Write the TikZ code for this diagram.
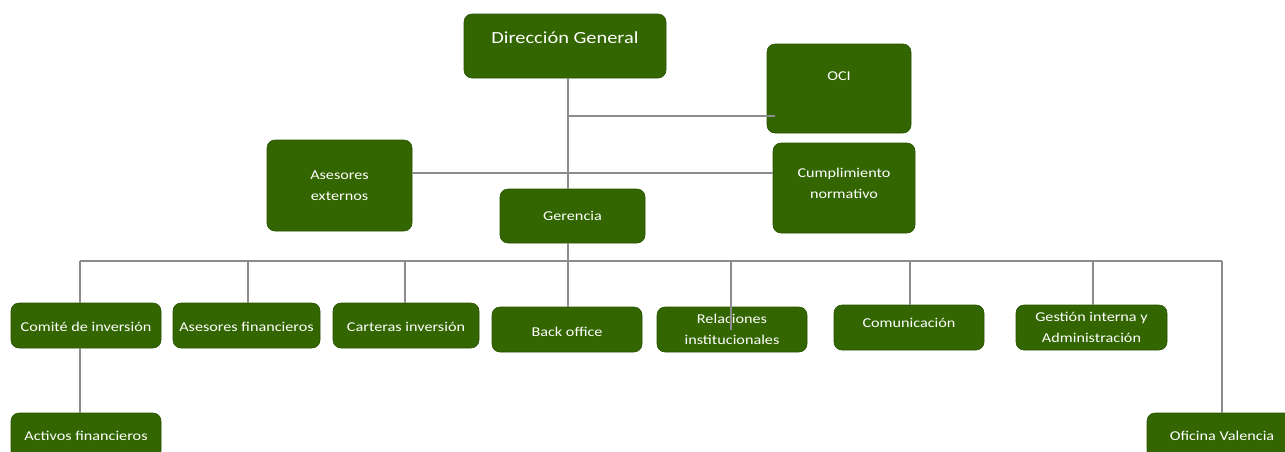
\documentclass[tikz,border=0pt]{standalone}
\usepackage{fontspec}
\setmainfont[FakeStretch=1.2]{Carlito}
\definecolor{boxgreen}{HTML}{336600}
\definecolor{linegray}{HTML}{8C8C8C}
\begin{document}
\begin{tikzpicture}[x=1pt,y=-1pt,
  box/.style={draw=boxgreen!80!black, line width=0.6pt, fill=boxgreen, rounded corners=8pt, inner sep=0pt},
  lbl/.style={text=white, font=\fontsize{13.5}{21}\selectfont, align=center},
  big/.style={text=white, font=\fontsize{17}{20}\selectfont, align=center},
  conn/.style={draw=linegray, line width=1.4pt}]
\useasboundingbox (0,0) rectangle (1285,451);
\clip (0,0) rectangle (1285,451);
% boxes
\node[box, minimum width=202, minimum height=64, label={[big,yshift=8]center:Dirección General}] (dg) at (565,46) {};
\node[box, minimum width=144, minimum height=89, label={[lbl,yshift=12]center:OCI}] (oci) at (839,88.5) {};
\node[box, minimum width=145, minimum height=91, label={[lbl]center:Asesores\\externos}] (ase) at (339.5,185.5) {};
\node[box, minimum width=142, minimum height=90, label={[lbl,yshift=5]center:Cumplimiento\\normativo}] (cum) at (844,188) {};
\node[box, minimum width=145, minimum height=54, label={[lbl]center:Gerencia}] (ger) at (572.5,216) {};
\node[box, minimum width=150, minimum height=45, label={[lbl,yshift=-1]center:Comité de inversión}] (com) at (86,325.5) {};
\node[box, minimum width=147, minimum height=45, label={[lbl,yshift=-1]center:Asesores financieros}] (asf) at (246.5,325.5) {};
\node[box, minimum width=146, minimum height=45, label={[lbl,yshift=-1]center:Carteras inversión}] (car) at (406,325.5) {};
\node[box, minimum width=150, minimum height=45, label={[lbl,yshift=-2]center:Back office}] (bo) at (567,329.5) {};
\node[box, minimum width=150, minimum height=45, label={[lbl]center:Relaciones\\institucionales}] (rel) at (732,329.5) {};
\node[box, minimum width=150, minimum height=45, label={[lbl,yshift=5]center:Comunicación}] (comu) at (909,327.5) {};
\node[box, minimum width=151, minimum height=45, label={[lbl]center:Gestión interna y\\Administración}] (gest) at (1091.5,327.5) {};
\node[box, minimum width=150, minimum height=46, label={[lbl]center:Activos financieros}] (act) at (86,436) {};
\node[box, minimum width=150, minimum height=46, label={[lbl]center:Oficina Valencia}] (ofv) at (1222,436) {};
% connectors
\coordinate (j1) at (568,116);
\coordinate (bus) at (568,261);
\draw[conn] (dg.south -| j1) -- (ger.north -| j1);
\draw[conn] (j1) -- ([xshift=8pt]oci.west |- j1);
\draw[conn] (ase.east |- 0,173) -- (cum.west |- 0,173);
\draw[conn] (ger.south -| bus) -- (bus);
\draw[conn] (80,261) -- (1222,261);
\draw[conn] (80,261) -- (80,0 |- com.north);
\draw[conn] (248,261) -- (248,0 |- asf.north);
\draw[conn] (405,261) -- (405,0 |- car.north);
\draw[conn] (bus) -- (568,0 |- bo.north);
\draw[conn] (731,261) -- (731,330);
\draw[conn] (910,261) -- (910,0 |- comu.north);
\draw[conn] (1093,261) -- (1093,0 |- gest.north);
\draw[conn] (1222,261) -- (1222,0 |- ofv.north);
\draw[conn] (com.south -| 80,0) -- (act.north -| 80,0);
\end{tikzpicture}
\end{document}
